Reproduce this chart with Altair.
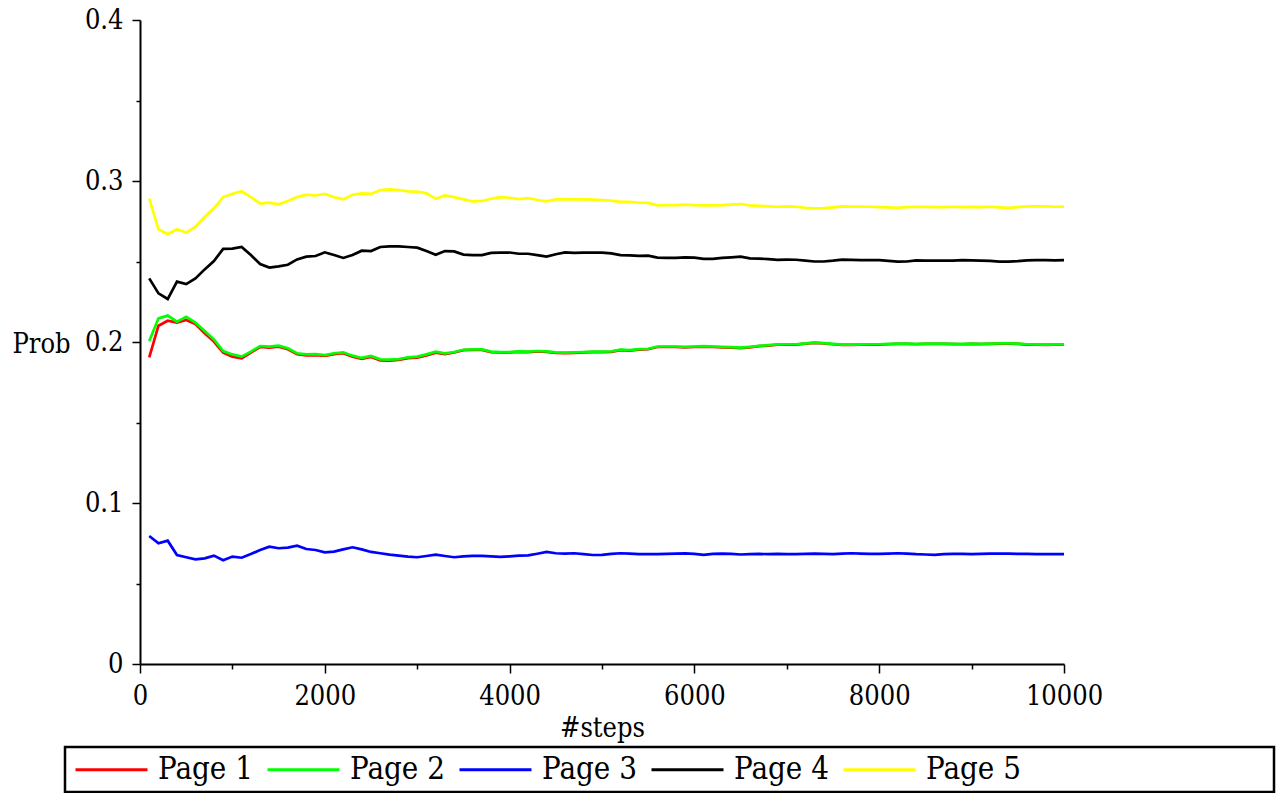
import altair as alt
import pandas as pd

# ---------------- data ----------------
steps = list(range(100, 10001, 100))
series_names = ["Page 1", "Page 2", "Page 3", "Page 4", "Page 5"]
series_colors = ["#ff0000", "#00ff00", "#0000ff", "#000000", "#ffff00"]

page1 = [0.1905, 0.2101, 0.2132, 0.2120, 0.2137, 0.2112, 0.2054, 0.2003, 0.1934, 0.1909,
         0.1899, 0.1934, 0.1969, 0.1965, 0.1971, 0.1955, 0.1924, 0.1917, 0.1919, 0.1913,
         0.1924, 0.1930, 0.1909, 0.1895, 0.1907, 0.1886, 0.1884, 0.1888, 0.1899, 0.1903,
         0.1917, 0.1934, 0.1924,
         0.1935, 0.1949, 0.1951, 0.1951, 0.1937, 0.1935, 0.1935, 0.1939, 0.1937, 0.1941,
         0.1939, 0.1933, 0.1931, 0.1933, 0.1935, 0.1937, 0.1937, 0.1939, 0.1949, 0.1947,
         0.1953, 0.1955, 0.1969, 0.1969, 0.1969, 0.1967, 0.1969, 0.1971, 0.1969, 0.1967,
         0.1965, 0.1962, 0.1967,
         0.1974, 0.1978, 0.1983, 0.1984, 0.1984, 0.1990, 0.1994, 0.1991, 0.1986, 0.1982,
         0.1982, 0.1983, 0.1984, 0.1984, 0.1986, 0.1988, 0.1988, 0.1986, 0.1988, 0.1988,
         0.1988, 0.1987, 0.1986, 0.1988, 0.1987, 0.1988, 0.1990, 0.1990, 0.1988, 0.1984,
         0.1983, 0.1982, 0.1983, 0.1983]

page2 = [0.2006, 0.2147, 0.2164, 0.2126, 0.2157, 0.2120, 0.2068, 0.2016, 0.1944, 0.1923,
         0.1909, 0.1940, 0.1975, 0.1971, 0.1977, 0.1961, 0.1930, 0.1923, 0.1925, 0.1919,
         0.1930, 0.1936, 0.1915, 0.1901, 0.1913, 0.1892, 0.1890, 0.1894, 0.1905, 0.1909,
         0.1923, 0.1940, 0.1930,
         0.1938, 0.1952, 0.1954, 0.1954, 0.1940, 0.1938, 0.1938, 0.1942, 0.1940, 0.1944,
         0.1942, 0.1936, 0.1934, 0.1936, 0.1938, 0.1940, 0.1940, 0.1942, 0.1952, 0.1950,
         0.1956, 0.1958, 0.1972, 0.1972, 0.1972, 0.1970, 0.1972, 0.1974, 0.1972, 0.1970,
         0.1968, 0.1965, 0.1970,
         0.1976, 0.1980, 0.1985, 0.1986, 0.1986, 0.1992, 0.1996, 0.1993, 0.1988, 0.1984,
         0.1984, 0.1985, 0.1986, 0.1986, 0.1988, 0.1990, 0.1990, 0.1988, 0.1990, 0.1990,
         0.1990, 0.1989, 0.1988, 0.1990, 0.1989, 0.1990, 0.1992, 0.1992, 0.1990, 0.1986,
         0.1985, 0.1984, 0.1985, 0.1985]

page3 = [0.0795, 0.0750, 0.0766, 0.0677, 0.0663, 0.0650, 0.0656, 0.0673, 0.0644, 0.0667,
         0.0660, 0.0683, 0.0708, 0.0729, 0.0719, 0.0723, 0.0735, 0.0714, 0.0708, 0.0694,
         0.0698, 0.0712, 0.0725, 0.0712, 0.0696, 0.0688, 0.0679, 0.0673, 0.0667, 0.0663,
         0.0671, 0.0679, 0.0671, 0.0663, 0.0669, 0.0671, 0.0671, 0.0669, 0.0665, 0.0669,
         0.0673, 0.0675, 0.0685, 0.0696, 0.0688, 0.0685, 0.0688, 0.0683, 0.0677,
         0.0678, 0.0684, 0.0688, 0.0686, 0.0683, 0.0682, 0.0682, 0.0684, 0.0686, 0.0687,
         0.0684, 0.0678, 0.0684, 0.0686, 0.0684, 0.0680, 0.0682, 0.0684, 0.0682, 0.0684,
         0.0682, 0.0682, 0.0684, 0.0686, 0.0684, 0.0682, 0.0686, 0.0688, 0.0686, 0.0684,
         0.0684, 0.0686, 0.0688, 0.0686, 0.0682, 0.0680, 0.0678, 0.0682, 0.0684, 0.0684,
         0.0682, 0.0684, 0.0686, 0.0686, 0.0686, 0.0684, 0.0684, 0.0683, 0.0683, 0.0683,
         0.0683]

page4 = [0.2395, 0.2302, 0.2267, 0.2375, 0.2360, 0.2395, 0.2451, 0.2503, 0.2578, 0.2580,
         0.2590, 0.2540, 0.2484, 0.2462, 0.2470, 0.2480, 0.2513, 0.2530, 0.2534, 0.2557,
         0.2540, 0.2522, 0.2540, 0.2567, 0.2565, 0.2590, 0.2594, 0.2594, 0.2590, 0.2586,
         0.2565, 0.2542, 0.2565,
         0.2563, 0.2543, 0.2540, 0.2540, 0.2553, 0.2555, 0.2556, 0.2548, 0.2548, 0.2540,
         0.2530, 0.2545, 0.2557, 0.2553, 0.2555, 0.2555, 0.2555, 0.2550, 0.2540, 0.2538,
         0.2535, 0.2536, 0.2524, 0.2522, 0.2522, 0.2526, 0.2524, 0.2516, 0.2516, 0.2522,
         0.2526, 0.2530, 0.2520,
         0.2518, 0.2515, 0.2510, 0.2512, 0.2511, 0.2505, 0.2500, 0.2500, 0.2505, 0.2512,
         0.2510, 0.2509, 0.2509, 0.2508, 0.2504, 0.2499, 0.2500, 0.2507, 0.2506, 0.2505,
         0.2505, 0.2506, 0.2509, 0.2507, 0.2505, 0.2504, 0.2499, 0.2499, 0.2502, 0.2507,
         0.2509, 0.2508, 0.2507, 0.2508]

page5 = [0.2890, 0.2700, 0.2670, 0.2700, 0.2680, 0.2716, 0.2778, 0.2830, 0.2900, 0.2920,
         0.2936, 0.2900, 0.2860, 0.2865, 0.2855, 0.2876, 0.2900, 0.2915, 0.2910, 0.2920,
         0.2900, 0.2886, 0.2915, 0.2923, 0.2920, 0.2944, 0.2948, 0.2944, 0.2936, 0.2934,
         0.2923, 0.2890, 0.2910,
         0.2900, 0.2886, 0.2874, 0.2876, 0.2890, 0.2900, 0.2896, 0.2888, 0.2893, 0.2882,
         0.2874, 0.2886, 0.2888, 0.2886, 0.2886, 0.2884, 0.2882, 0.2878, 0.2870, 0.2870,
         0.2865, 0.2864, 0.2849, 0.2851, 0.2850, 0.2853, 0.2850, 0.2849, 0.2849, 0.2850,
         0.2853, 0.2857, 0.2849,
         0.2846, 0.2843, 0.2840, 0.2843, 0.2840, 0.2834, 0.2830, 0.2831, 0.2836, 0.2842,
         0.2841, 0.2841, 0.2840, 0.2838, 0.2836, 0.2834, 0.2838, 0.2840, 0.2839, 0.2838,
         0.2838, 0.2840, 0.2838, 0.2839, 0.2838, 0.2840, 0.2836, 0.2833, 0.2838, 0.2842,
         0.2843, 0.2842, 0.2840, 0.2841]

x_major = [0, 2000, 4000, 6000, 8000, 10000]
x_minor = [1000, 3000, 5000, 7000, 9000]
y_major = [0, 0.1, 0.2, 0.3, 0.4]
y_minor = [0.05, 0.15, 0.25, 0.35]

FONT = "DejaVu Serif Condensed"

rows = []
for name, vals in zip(series_names, [page1, page2, page3, page4, page5]):
    for s, v in zip(steps, vals):
        rows.append({"step": s, "prob": v, "series": name})
df = pd.DataFrame(rows)

xscale = alt.Scale(domain=[0, 10000], nice=False, zero=False)
yscale = alt.Scale(domain=[0, 0.4], nice=False)

lines = alt.Chart(df).mark_line(strokeWidth=2.7).encode(
    x=alt.X("step:Q", scale=xscale,
            axis=alt.Axis(values=x_major, format="d", title="#steps", grid=False,
                          labelFont=FONT, labelFontSize=27, labelColor="black",
                          labelPadding=10, tickSize=9, tickWidth=1.5, tickColor="black",
                          domainColor="black", domainWidth=2,
                          titleFont=FONT, titleFontSize=27, titleFontWeight="normal",
                          titleColor="black", titleBaseline="middle", titleY=64,
                          labelFlush=False, orient="bottom")),
    y=alt.Y("prob:Q", scale=yscale,
            axis=alt.Axis(values=y_major, grid=False,
                          labelExpr="datum.value == 0 ? '0' : format(datum.value, '.1f')",
                          labelFont=FONT, labelFontSize=27, labelColor="black",
                          labelPadding=9, tickSize=8, tickWidth=1.5, tickColor="black",
                          domainColor="black", domainWidth=2,
                          title="Prob", titleAngle=0, titleAlign="left",
                          titleBaseline="middle", titleX=-128, titleY=324,
                          titleFont=FONT, titleFontSize=27, titleFontWeight="normal",
                          titleColor="black", labelFlush=False, orient="left")),
    color=alt.Color("series:N",
                    scale=alt.Scale(domain=series_names, range=series_colors),
                    legend=alt.Legend(orient="none", legendX=-66, legendY=712,
                                      direction="horizontal", columns=5, title=None,
                                      symbolType="stroke", symbolSize=5184,
                                      symbolStrokeWidth=3, labelFont=FONT,
                                      labelFontSize=31, labelColor="black",
                                      labelOffset=9, columnPadding=8, padding=0,
                                      labelLimit=300)),
    order=alt.Order("step:Q"),
)

minor = alt.Chart(df).mark_line(opacity=0).encode(
    x=alt.X("step:Q", scale=xscale,
            axis=alt.Axis(values=x_minor, labels=False, domain=False, title=None,
                          grid=False, tickSize=5, tickWidth=1.5, tickColor="black",
                          orient="bottom")),
    y=alt.Y("prob:Q", scale=yscale,
            axis=alt.Axis(values=y_minor, labels=False, domain=False, title=None,
                          grid=False, tickSize=4, tickWidth=1.5, tickColor="black",
                          orient="left")),
    detail="series:N",
)

box = alt.Chart(alt.Data(values=[{"k": 1}])).mark_rect(
    fillOpacity=0, stroke="black", strokeWidth=2.5
).encode(
    x=alt.value(-75), x2=alt.value(1134), y=alt.value(727), y2=alt.value(772)
)

chart = alt.layer(lines, minor, box).resolve_axis(
    x="independent", y="independent"
).properties(
    width=924, height=644,
    autosize=alt.AutoSizeParams(type="none"),
    padding={"left": 132, "top": 12, "right": 213, "bottom": 129},
    background="white",
).configure_view(strokeWidth=0, stroke="transparent")

chart.save("out.html", embed_options={"renderer": "svg", "actions": False})
